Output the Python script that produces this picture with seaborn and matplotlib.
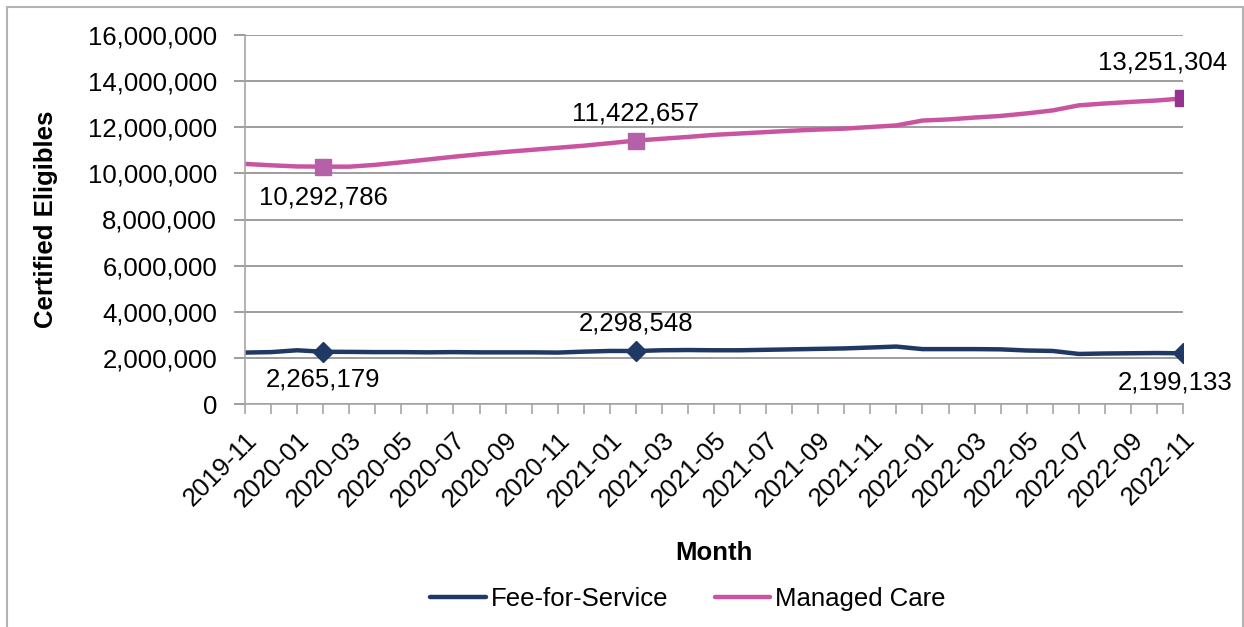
import numpy as np
import pandas as pd
import matplotlib
matplotlib.use("Agg")
import matplotlib.pyplot as plt
import seaborn as sns
from matplotlib.patches import Rectangle
from matplotlib.ticker import FuncFormatter

months = pd.period_range("2019-11", "2022-11", freq="M").strftime("%Y-%m").tolist()

fee_for_service = [
    2230000, 2250000, 2330000, 2265179, 2260000, 2250000, 2250000, 2240000,
    2250000, 2240000, 2240000, 2240000, 2230000, 2270000, 2300000, 2298548,
    2330000, 2340000, 2330000, 2330000, 2350000, 2370000, 2390000, 2410000,
    2450000, 2490000, 2380000, 2380000, 2380000, 2370000, 2320000, 2300000,
    2170000, 2190000, 2200000, 2210000, 2199133,
]
managed_care = [
    10410000, 10350000, 10300000, 10292786, 10290000, 10370000, 10480000, 10600000,
    10720000, 10830000, 10930000, 11020000, 11110000, 11200000, 11310000, 11422657,
    11500000, 11580000, 11670000, 11730000, 11790000, 11850000, 11900000, 11940000,
    12010000, 12080000, 12290000, 12340000, 12420000, 12490000, 12600000, 12730000,
    12950000, 13030000, 13100000, 13160000, 13251304,
]
series_names = ["Fee-for-Service", "Managed Care"]
highlight_months = ["2020-02", "2021-02", "2022-11"]

df = pd.DataFrame({
    "Month": months * 2,
    "idx": list(range(len(months))) * 2,
    "Certified Eligibles": fee_for_service + managed_care,
    "Program": [series_names[0]] * len(months) + [series_names[1]] * len(months),
})

sns.set_theme(style="white")
plt.rcParams["font.family"] = ["Liberation Sans", "DejaVu Sans"]
plt.rcParams["text.color"] = "black"
plt.rcParams["axes.labelcolor"] = "black"
FS = 18.5

navy = "#1F3864"
pink = "#C955A0"
palette = {series_names[0]: navy, series_names[1]: pink}

fig = plt.figure(figsize=(12.44, 6.27), dpi=100)
ax = fig.add_axes([245 / 1244, 1 - 404 / 627, (1183 - 245) / 1244, (404 - 35) / 627])

sns.lineplot(data=df, x="idx", y="Certified Eligibles", hue="Program",
             palette=palette, linewidth=3.2, ax=ax, legend=True)

# highlight markers and labels
hi_idx = [months.index(m) for m in highlight_months]
ffs_offsets = [(0, -28), (0, 27), (-8, -29)]
mc_offsets = [(0, -31), (0, 27), (-20, 36)]
mc_colors = ["#B660AA", "#B660AA", "#963291"]
for k, i in enumerate(hi_idx):
    ax.plot(i, fee_for_service[i], marker="D", color=navy, markersize=10,
            linestyle="none", zorder=5)
    ax.plot(i, managed_care[i], marker="s", color=mc_colors[k], markersize=12,
            linestyle="none", zorder=5)
    ax.annotate(f"{fee_for_service[i]:,}", (i, fee_for_service[i]),
                xytext=ffs_offsets[k], textcoords="offset pixels",
                ha="center", va="center", fontsize=FS, color="black")
    ax.annotate(f"{managed_care[i]:,}", (i, managed_care[i]),
                xytext=mc_offsets[k], textcoords="offset pixels",
                ha="center", va="center", fontsize=FS, color="black")

ax.set_xlim(0, len(months) - 1)
ax.set_ylim(0, 16000000)
ax.set_yticks(np.arange(0, 16000001, 2000000))
ax.yaxis.set_major_formatter(FuncFormatter(lambda v, p: f"{int(v):,}"))
ax.set_xticks(range(len(months)))
ax.set_xticklabels([m if i % 2 == 0 else "" for i, m in enumerate(months)],
                   rotation=45, ha="right", rotation_mode="anchor")

gridc = "#8C8C8C"
ax.grid(axis="y", color=gridc, linewidth=1.2)
ax.grid(axis="x", visible=False)
ax.set_axisbelow(True)
for s in ["top", "right"]:
    ax.spines[s].set_visible(False)
for s in ["left", "bottom"]:
    ax.spines[s].set_color("#A6A6A6")
    ax.spines[s].set_linewidth(1.2)
ax.tick_params(axis="y", length=8, width=1.2, color=gridc, labelsize=FS, pad=12,
               left=True, labelcolor="black")
ax.tick_params(axis="x", length=7, width=1.2, color="#A6A6A6", labelsize=FS,
               pad=10, bottom=True, direction="out", labelcolor="black")

ax.set_xlabel("Month", fontsize=FS, fontweight="bold", color="black")
ax.set_ylabel("Certified Eligibles", fontsize=FS, fontweight="bold", color="black")
ax.xaxis.set_label_coords(0.5, -(541 - 404) / (404 - 35))
ax.yaxis.set_label_coords(-(245 - 58) / (1183 - 245), 0.5)

handles, labels = ax.get_legend_handles_labels()
ax.legend(handles, labels, loc="center", ncol=2, frameon=False, fontsize=FS,
          handlelength=2.15, handletextpad=0.2, columnspacing=1.8,
          labelcolor="black",
          bbox_to_anchor=(688 / 1244, 1 - 599 / 627), bbox_transform=fig.transFigure)

fig.patches.append(Rectangle((7 / 1244, -0.05), (1243 - 7) / 1244, 1.05 - 7 / 627,
                             transform=fig.transFigure, fill=False,
                             edgecolor="#B3B3B3", linewidth=1.5))

fig.savefig("out.png", dpi=100, facecolor="white")
